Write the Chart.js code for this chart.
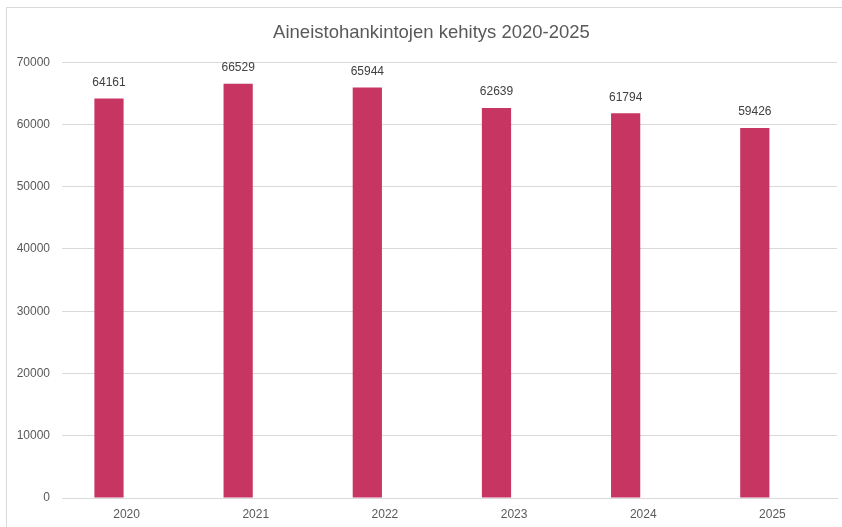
<!DOCTYPE html>
<html>
<head>
<meta charset="utf-8">
<script src="https://cdn.jsdelivr.net/npm/chart.js@4"></script>
<style>
  html, body { margin: 0; padding: 0; background: #fff; }
  #wrap { position: relative; width: 842px; height: 527px; overflow: hidden; }
  #frame { position: absolute; left: 6px; top: 7px; width: 900px; height: 600px;
           border-left: 1px solid #d9d9d9; border-top: 1px solid #d9d9d9; box-sizing: border-box; }
  canvas { position: absolute; left: 0; top: 0; }
</style>
</head>
<body>
<div id="wrap">
  <div id="frame"></div>
  <canvas id="c" width="842" height="527"></canvas>
</div>
<script>
const categories = ["2020", "2021", "2022", "2023", "2024", "2025"];
const acquisitions = [64161, 66529, 65944, 62639, 61794, 59426];
const emptySeries = [null, null, null, null, null, null];
const yTicks = [0, 10000, 20000, 30000, 40000, 50000, 60000, 70000];
const chartTitle = "Aineistohankintojen kehitys 2020-2025";

const labelPlugin = {
  id: 'barLabels',
  afterDatasetsDraw(chart) {
    const ctx = chart.ctx;
    const meta = chart.getDatasetMeta(0);
    ctx.save();
    ctx.font = '12px "Liberation Sans", Arial, sans-serif';
    ctx.fillStyle = '#404040';
    ctx.textAlign = 'center';
    ctx.textBaseline = 'middle';
    meta.data.forEach((bar, i) => {
      ctx.fillText(String(acquisitions[i]), bar.x, bar.y - 16);
    });
    // title, centred over the framed chart box
    const area = chart.chartArea;
    const tb = chart.titleBlock;
    ctx.font = '18.5px "Liberation Sans", Arial, sans-serif';
    ctx.fillStyle = '#595959';
    ctx.fillText(chartTitle, (area.left + area.right) / 2 - 18, (tb.top + tb.bottom) / 2 + 2);
    ctx.restore();
  }
};

new Chart(document.getElementById('c'), {
  type: 'bar',
  data: {
    labels: categories,
    datasets: [
      { data: acquisitions, backgroundColor: '#C73562', borderWidth: 0,
        categoryPercentage: 0.545, barPercentage: 0.83 },
      { data: emptySeries, backgroundColor: 'rgba(0,0,0,0)',
        categoryPercentage: 0.545, barPercentage: 0.83 }
    ]
  },
  options: {
    responsive: false,
    animation: false,
    devicePixelRatio: 1,
    layout: { padding: { left: 0, right: 5, top: 0, bottom: 0 } },
    plugins: {
      legend: { display: false },
      tooltip: { enabled: false },
      title: {
        display: true,
        text: chartTitle,
        color: 'rgba(0,0,0,0)',
        font: { family: '"Liberation Sans", Arial, sans-serif', size: 18.5, weight: 'normal' },
        padding: { top: 22, bottom: 18 }
      }
    },
    scales: {
      x: {
        afterFit(scale) { scale.height = 29; },
        grid: { display: false, drawTicks: false },
        border: { display: true, color: '#d9d9d9' },
        ticks: { color: '#595959', padding: 9,
                 font: { family: '"Liberation Sans", Arial, sans-serif', size: 12 } }
      },
      y: {
        min: 0, max: 70000,
        afterBuildTicks(scale) { scale.ticks = yTicks.map(v => ({ value: v })); },
        afterFit(scale) { scale.width = 62; },
        grid: { color: '#d9d9d9', drawTicks: false },
        border: { display: false },
        ticks: { color: '#595959', padding: 12,
                 callback: (v) => String(v),
                 font: { family: '"Liberation Sans", Arial, sans-serif', size: 12 } }
      }
    }
  },
  plugins: [labelPlugin]
});
</script>
</body>
</html>
